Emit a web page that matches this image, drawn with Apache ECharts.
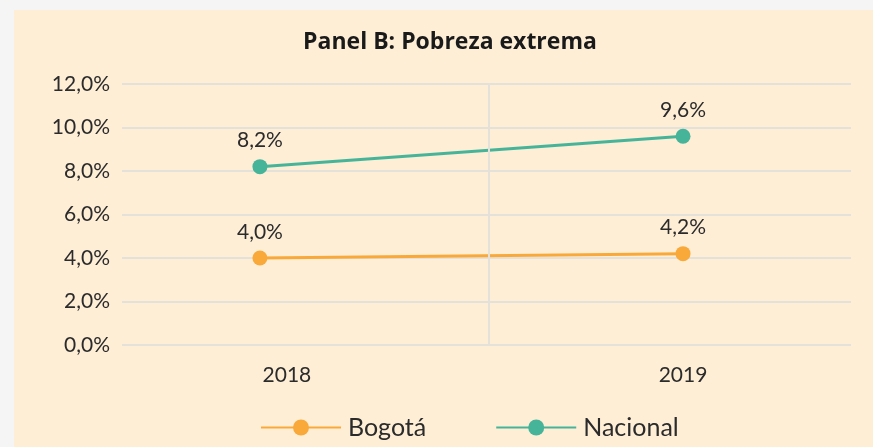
<!DOCTYPE html>
<html>
<head>
<meta charset="utf-8">
<script src="https://cdn.jsdelivr.net/npm/echarts@6/dist/echarts.min.js"></script>
<style>
  html, body { margin: 0; padding: 0; background: #f5f5f5; width: 873px; height: 447px; overflow: hidden; }
  #panel { position: absolute; left: 14px; top: 10px; right: 0; bottom: 0; background: #FEEED6; }
  #chart { position: absolute; left: 0; top: 0; width: 873px; height: 447px; }
</style>
</head>
<body>
<div id="panel"></div>
<div id="chart"></div>
<script>
const years = [2018, 2019];
const bogota = [4.0, 4.2];
const nacional = [8.2, 9.6];
const yTicks = [0, 2, 4, 6, 8, 10, 12];
const titleText = 'Panel B: Pobreza extrema';

const fmt = v => v.toFixed(1).replace('.', ',') + '%';
const FONT = 'Lato';
const orange = '#F9A93A';
const green = '#46B499';
const gridColor = '#E4E0DA';
const textColor = '#2b2b2b';

const chart = echarts.init(document.getElementById('chart'), null, { renderer: 'canvas' });
chart.setOption({
  backgroundColor: 'transparent',
  animation: false,
  title: {
    text: titleText,
    left: 445, top: 26, textAlign: 'center',
    textStyle: { fontFamily: 'Open Sans', fontWeight: 'bold', fontSize: 23, color: '#1a1a1a' }
  },
  grid: { left: 122, right: 22, top: 84, bottom: 102, containLabel: false },
  xAxis: {
    type: 'value',
    min: 2017.674, max: 2019.397,
    axisLine: { show: false }, axisTick: { show: false }, splitLine: { show: false },
    axisLabel: {
      customValues: years,
      margin: 20,
      fontFamily: FONT, fontSize: 21, color: textColor,
      formatter: v => Math.round(v) === years[0] ? '{a|' + Math.round(v) + '}' : '{b|' + Math.round(v) + '}',
      rich: {
        a: { fontFamily: FONT, fontSize: 21, color: textColor, padding: [0, 0, 0, 54] },
        b: { fontFamily: FONT, fontSize: 21, color: textColor }
      }
    }
  },
  yAxis: {
    type: 'value', min: yTicks[0], max: yTicks[yTicks.length - 1], interval: 2,
    axisLine: { show: false }, axisTick: { show: false },
    splitLine: { lineStyle: { color: gridColor, width: 2 } },
    axisLabel: { formatter: fmt, margin: 12, fontFamily: FONT, fontSize: 21, color: textColor }
  },
  legend: {
    bottom: 2, left: 255,
    itemWidth: 80, itemHeight: 20, itemGap: 69,
    textStyle: { fontFamily: FONT, fontSize: 25, color: textColor, padding: [0, 0, 0, 2] },
    data: ['Bogotá', 'Nacional']
  },
  series: [
    {
      name: 'Bogotá', type: 'line',
      data: years.map((y, i) => [y, bogota[i]]),
      symbol: 'circle', symbolSize: 15,
      itemStyle: { color: orange },
      lineStyle: { color: orange, width: 3 },
      label: { show: true, position: 'top', distance: 8, formatter: p => fmt(p.value[1]), fontFamily: FONT, fontSize: 21, color: textColor },
      markLine: {
        silent: true, symbol: 'none', label: { show: false },
        lineStyle: { color: gridColor, width: 2, type: 'solid' },
        data: [{ xAxis: 2018.537 }]
      },
      z: 3
    },
    {
      name: 'Nacional', type: 'line',
      data: years.map((y, i) => [y, nacional[i]]),
      symbol: 'circle', symbolSize: 15,
      itemStyle: { color: green },
      lineStyle: { color: green, width: 3 },
      label: { show: true, position: 'top', distance: 8, formatter: p => fmt(p.value[1]), fontFamily: FONT, fontSize: 21, color: textColor },
      z: 3
    }
  ]
});
</script>
</body>
</html>
